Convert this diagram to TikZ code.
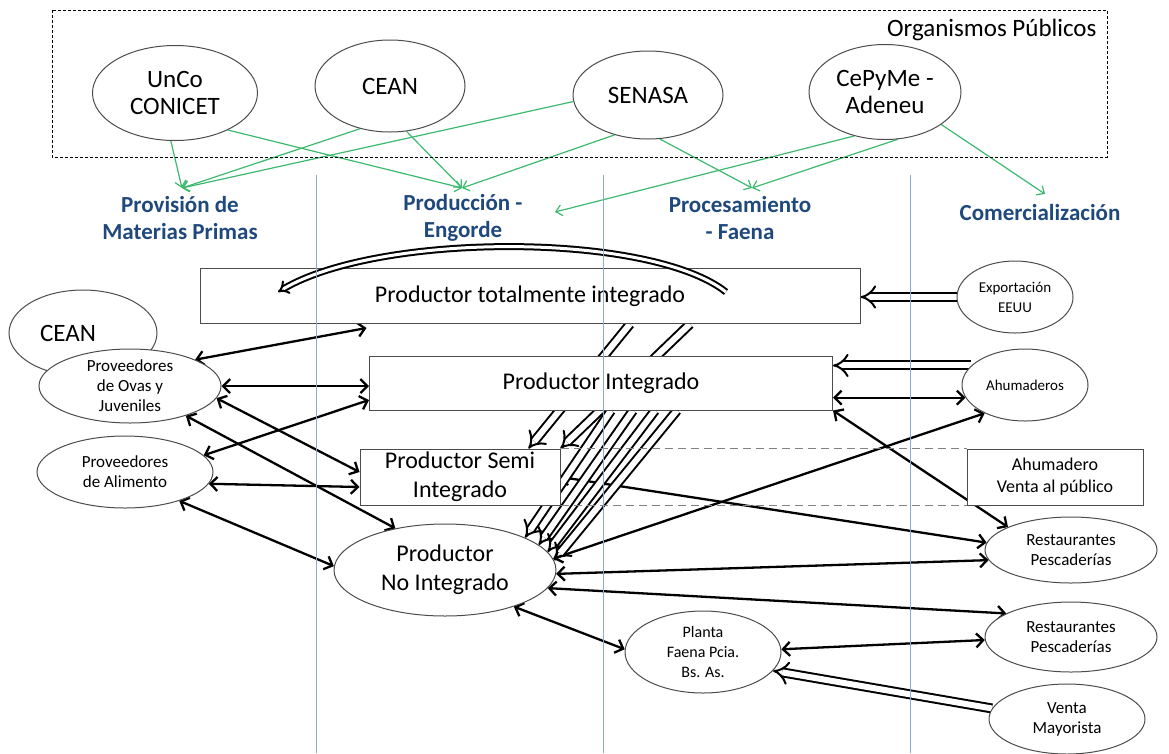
\documentclass[tikz,border=0pt]{standalone}
\usepackage{fontspec}
\setmainfont{Carlito}
\usetikzlibrary{shapes.geometric,arrows.meta,backgrounds}
\definecolor{headblue}{RGB}{31,73,125}
\definecolor{govgreen}{RGB}{60,185,110}
\definecolor{colblue}{RGB}{140,170,215}
\definecolor{sepgray}{RGB}{130,130,130}

\begin{document}
\begin{tikzpicture}[x=1pt,y=-1pt,
    org/.style={ellipse,draw=black!70,line width=1pt,fill=white,align=center,inner sep=0pt,font=\fontsize{25}{27}\selectfont},
    actor/.style={ellipse,draw=black!70,line width=1pt,fill=white,align=center,inner sep=0pt,font=\fontsize{17}{20}\selectfont},
    prod/.style={rectangle,draw=black!70,line width=1pt,fill=white,align=center,inner sep=0pt,font=\fontsize{24}{29}\selectfont},
    stage/.style={text=headblue,align=center,font=\bfseries\fontsize{23}{27}\selectfont},
    gov/.style={draw=govgreen,line width=1.2pt,-{Straight Barb[length=6pt,width=11pt]}},
    flow/.style={line width=2.3pt,{Straight Barb[length=7pt,width=14pt]}-{Straight Barb[length=7pt,width=14pt]}},
    supply/.style={double,double distance=6pt,line width=2pt,-{Implies}},
    column/.style={draw=colblue,line width=0.9pt},
    sepline/.style={draw=sepgray,line width=1.5pt,dash pattern=on 8pt off 5pt}]
  \useasboundingbox (0,0) rectangle (1169,753);

  % organismos publicos
  \draw[line width=1pt,dash pattern=on 3pt off 2pt] (52,10) rectangle (1107,157);
  \node[anchor=east,font=\fontsize{25}{27}\selectfont] (orgname) at (1100,30) {Organismos Públicos};
  \node[org,minimum width=165pt,minimum height=95pt] (unco) at (175,93) {UnCo\\CONICET};
  \node[org,minimum width=150pt,minimum height=92pt] (ceanA) at (390,86) {CEAN};
  \node[org,minimum width=150pt,minimum height=88pt] (senasa) at (648,95) {SENASA};
  \node[org,minimum width=152pt,minimum height=95pt] (cepyme) at (885,92) {CePyMe -\\Adeneu};

  % etapas
  \node[stage] (prov) at (180,218) {Provisión de\\Materias Primas};
  \node[stage] (prodn) at (463,218) {Producción -\\Engorde};
  \node[stage] (proc) at (740,218) {Procesamiento\\- Faena};
  \node[stage] (comer) at (1040,213) {Comercialización};
  \coordinate (provT) at (182,188);
  \coordinate (prodT) at (462,188);
  \coordinate (procT) at (752,188);
  \coordinate (comT) at (1045,194);
  \coordinate (prodS) at (555,212);

  % productores
  \node[prod,minimum width=660pt,minimum height=55pt] (tot) at (530,296) {Productor totalmente integrado};
  \node[prod,minimum width=463pt,minimum height=54pt] (integ) at (601,383) {Productor Integrado};
  \node[prod,minimum width=200pt,minimum height=56pt] (semi) at (460,477) {Productor Semi\\Integrado};
  \node[org,minimum width=222pt,minimum height=92pt,font=\fontsize{24}{29}\selectfont] (noint) at (445,570) {Productor\\No Integrado};

  % proveedores
  \node[org,minimum width=148pt,minimum height=86pt] (ceanB) at (83,333) {CEAN\hspace*{30pt}};
  \node[actor,minimum width=182pt,minimum height=74pt,inner ysep=-4pt] (ovas) at (130,386) {Proveedores\\de Ovas y\\Juveniles};
  \node[actor,minimum width=176pt,minimum height=72pt] (alim) at (125,472) {Proveedores\\de Alimento};

  % comercializacion
  \node[actor,minimum width=116pt,minimum height=72pt,font=\fontsize{15}{20}\selectfont] (export) at (1015,297) {Exportación\\EEUU};
  \node[actor,minimum width=126pt,minimum height=72pt,font=\fontsize{15}{20}\selectfont] (ahum) at (1025,385) {Ahumaderos};
  \node[prod,minimum width=176pt,minimum height=56pt,font=\fontsize{18}{22}\selectfont] (ahumv) at (1055,477) {Ahumadero\\Venta al público};
  \node[actor,minimum width=172pt,minimum height=66pt] (rest1) at (1071,550) {Restaurantes\\Pescaderías};
  \node[actor,minimum width=172pt,minimum height=70pt] (rest2) at (1071,637) {Restaurantes\\Pescaderías};
  \node[actor,minimum width=156pt,minimum height=70pt] (venta) at (1067,719) {Venta\\Mayorista};
  \node[actor,minimum width=156pt,minimum height=82pt,font=\fontsize{16}{20}\selectfont] (planta) at (703,652) {Planta\\Faena Pcia.\\Bs. As.};

  \begin{scope}[on background layer]
    \draw[gov] (unco.265) -- (provT);
    \draw[gov] (unco.-35) -- (prodT);
    \draw[gov] (ceanA.-125) -- (provT);
    \draw[gov] (ceanA.-70) -- (prodT);
    \draw[gov] (senasa.185) -- (provT);
    \draw[gov] (senasa.-130) -- (prodT);
    \draw[gov] (senasa.-75) -- (procT);
    \draw[gov] (cepyme.-125) -- (prodS);
    \draw[gov] (cepyme.-75) -- (procT);
    \draw[gov] (cepyme.-30) -- (comT);

    \draw[flow] (ovas.22) -- ([xshift=167pt,yshift=-4pt]tot.south west);
    \draw[flow] (ovas.east) -- (ovas.east -| integ.west);
    \draw[flow] (ovas.-8) -- ([yshift=5pt]semi.west);
    \draw[flow] (ovas.-28) -- (noint.140);
    \draw[flow] (alim.12) -- ([yshift=-17pt]integ.west);
    \draw[flow] (alim.-8) -- ([yshift=-10pt]semi.west);
    \draw[flow] (alim.-28) -- (noint.178);

    \draw[supply] (export.west) -- (export.west -| tot.east);
    \draw[supply] (ahum.160) -- (ahum.160 -| integ.east);
    \draw[flow] (ahum.192) -- (ahum.192 -| integ.east);
    \draw[flow] (integ.south east) -- (rest1.160);
    \draw[flow] (ahum.215) -- (noint.6);
    \draw[flow] (semi.east) -- (rest1.175);
    \draw[flow] (noint.-2) -- (rest1.187);
    \draw[flow] (noint.-10) -- (rest2.160);
    \draw[flow] (noint.-28) -- (planta.178);
    \draw[flow] (planta.2) -- (rest2.182);
    \draw[supply] (venta.172) -- (planta.-15);

    \draw[supply] ([xshift=100pt]tot.south) -- ([xshift=-32pt]semi.north east);
    \draw[supply] ([xshift=160pt]tot.south) -- (semi.north east);
    \draw[supply] ([xshift=10pt]integ.south) -- (noint.22);
    \draw[supply] ([xshift=32pt]integ.south) -- (noint.15);
    \draw[supply] ([xshift=54pt]integ.south) -- (noint.10);
    \draw[supply] ([xshift=76pt]integ.south) -- (noint.5);
  \end{scope}

  \coordinate (loopR) at (726,292);
  \coordinate (loopL) at (278,292);
  \draw[line width=2pt,double,double distance=3pt,-{Implies}] (loopR) .. controls (650,232) and (380,232) .. (loopL);

  \draw[sepline] (semi.north east) -- (ahumv.north west);
  \draw[sepline] (semi.south east) -- (ahumv.south west);

  \draw[column] (316,175) -- (316,753);
  \draw[column] (603,175) -- (603,753);
  \draw[column] (910,175) -- (910,753);
\end{tikzpicture}
\end{document}
